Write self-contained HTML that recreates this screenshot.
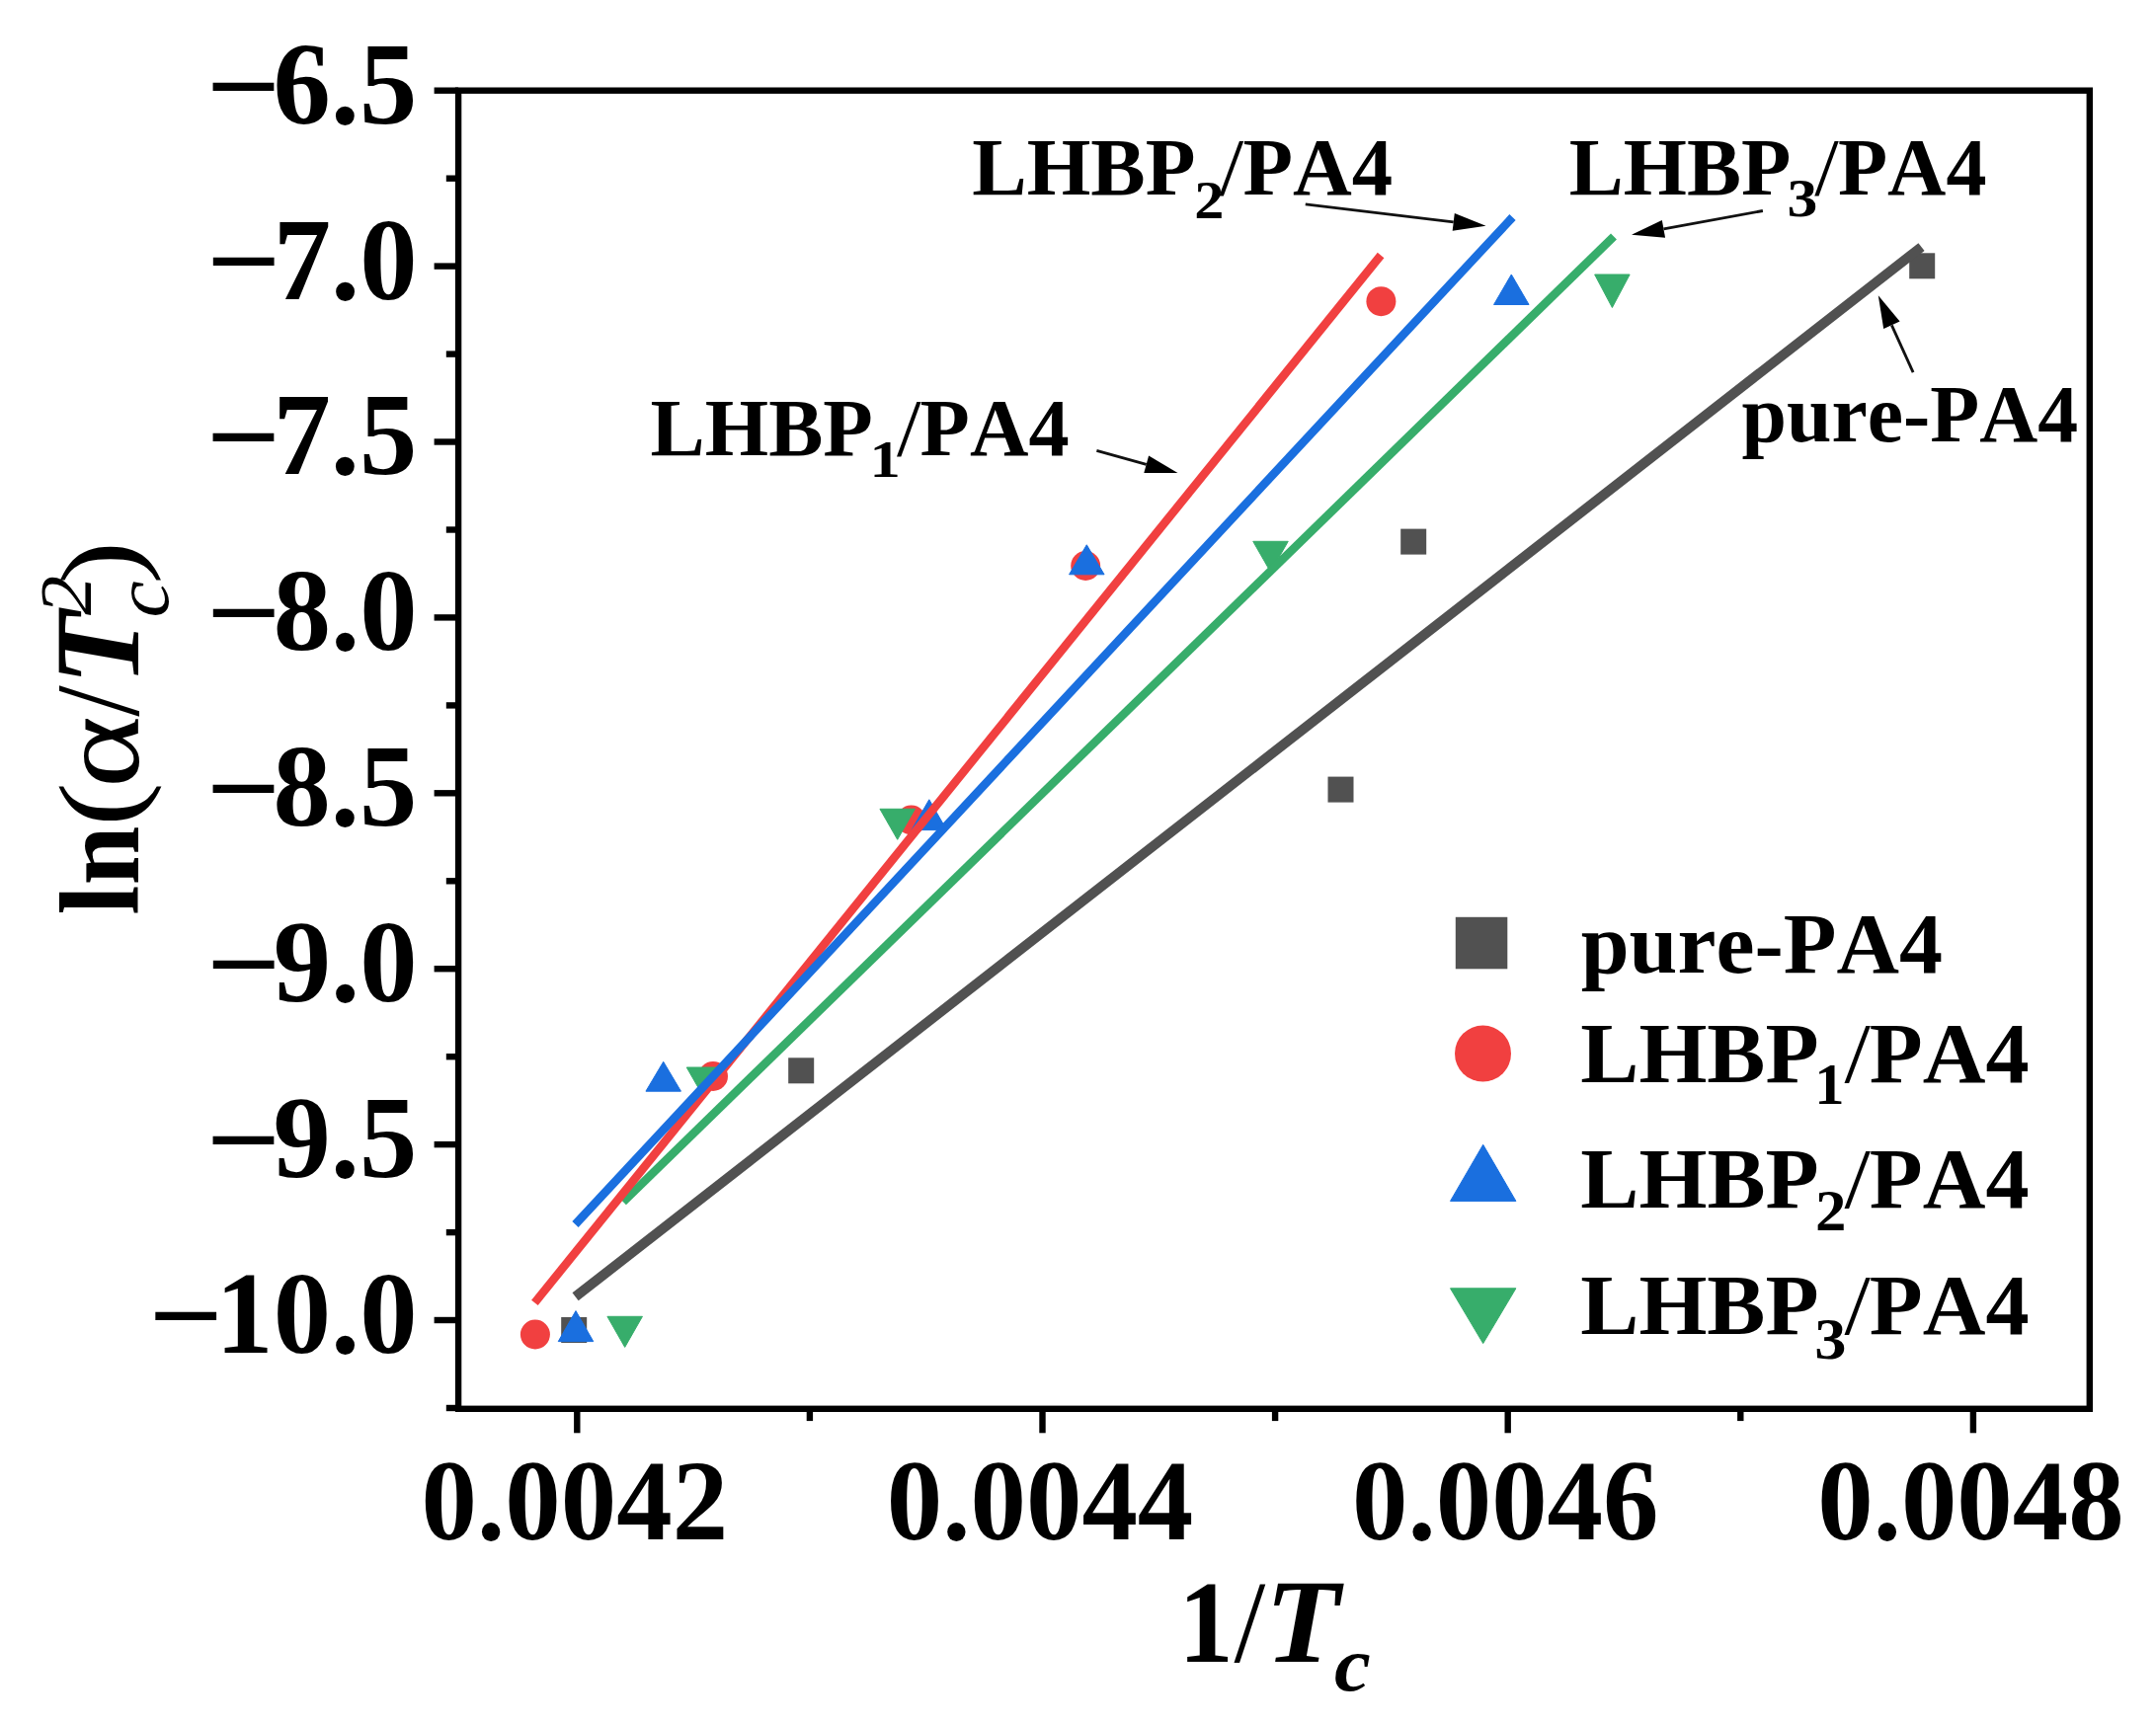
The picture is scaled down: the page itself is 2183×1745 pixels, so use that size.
<!DOCTYPE html>
<html lang="en"><head><meta charset="utf-8"><title>ln(α/Tc²) versus 1/Tc</title>
<style>
html,body{margin:0;padding:0;background:#fff;}
body{width:2183px;height:1745px;overflow:hidden;}
svg{display:block;}
text{font-family:"Liberation Serif", "Times New Roman", Times, serif;font-weight:bold;fill:#000;font-kerning:none;}
.it{font-style:italic;}
.rg{font-weight:normal;}
</style></head><body>
<svg width="2183" height="1745" viewBox="0 0 2183 1745">
<rect x="0" y="0" width="2183" height="1745" fill="#fff"/>
<g>
<rect x="1933.2" y="256.3" width="26" height="26" fill="#515151"/>
<rect x="1418.2" y="535.6" width="26" height="26" fill="#515151"/>
<rect x="1344.5" y="786.6" width="26" height="26" fill="#515151"/>
<rect x="798.2" y="1071.3" width="26" height="26" fill="#515151"/>
<rect x="568.2" y="1334.0" width="26" height="26" fill="#515151"/>
<circle cx="1398.4" cy="305.2" r="15" fill="#f14040"/>
<circle cx="1099.2" cy="573" r="15" fill="#f14040"/>
<circle cx="922.7" cy="830.5" r="15" fill="#f14040"/>
<circle cx="722" cy="1090" r="15" fill="#f14040"/>
<circle cx="541.9" cy="1351.5" r="15" fill="#f14040"/>
<polygon points="1530.3,278 1548.05,308.5 1512.55,308.5" fill="#1a6fdf" stroke="#1a6fdf" stroke-width="1" stroke-linejoin="round"/>
<polygon points="1100.3,551.8 1118.05,581.8 1082.55,581.8" fill="#1a6fdf" stroke="#1a6fdf" stroke-width="1" stroke-linejoin="round"/>
<polygon points="940.8,809.8 958.55,840.6 923.05,840.6" fill="#1a6fdf" stroke="#1a6fdf" stroke-width="1" stroke-linejoin="round"/>
<polygon points="671.7,1075.3 689.45,1105.2 653.95,1105.2" fill="#1a6fdf" stroke="#1a6fdf" stroke-width="1" stroke-linejoin="round"/>
<polygon points="583,1327.6 600.75,1358.6 565.25,1358.6" fill="#1a6fdf" stroke="#1a6fdf" stroke-width="1" stroke-linejoin="round"/>
<polygon points="1614.65,278 1650.15,278 1632.4,311.5" fill="#37ad6b" stroke="#37ad6b" stroke-width="1" stroke-linejoin="round"/>
<polygon points="1268.75,548.3 1304.25,548.3 1286.5,579.3" fill="#37ad6b" stroke="#37ad6b" stroke-width="1" stroke-linejoin="round"/>
<polygon points="890.95,819.3 926.45,819.3 908.7,850.3" fill="#37ad6b" stroke="#37ad6b" stroke-width="1" stroke-linejoin="round"/>
<polygon points="695.25,1081 730.75,1081 713,1112" fill="#37ad6b" stroke="#37ad6b" stroke-width="1" stroke-linejoin="round"/>
<polygon points="614.95,1333.3 650.45,1333.3 632.7,1364.4" fill="#37ad6b" stroke="#37ad6b" stroke-width="1" stroke-linejoin="round"/>
</g>
<g fill="none" stroke-linecap="butt">
<line x1="582.6" y1="1313.3" x2="1945.5" y2="250.1" stroke="#515151" stroke-width="10"/>
<line x1="631" y1="1217.2" x2="1634" y2="239.5" stroke="#37ad6b" stroke-width="8.5"/>
<line x1="541.4" y1="1319.3" x2="1398.1" y2="258.5" stroke="#f14040" stroke-width="8.5"/>
<line x1="582.5" y1="1240" x2="1531.5" y2="220" stroke="#1a6fdf" stroke-width="8.5"/>
</g>
<rect x="464.1" y="91.7" width="1651.7" height="1335.1" fill="none" stroke="#000" stroke-width="6.4"/>
<g stroke="#000" stroke-width="6.4" fill="none">
<line x1="439.6" y1="91.7" x2="464.1" y2="91.7"/>
<line x1="451.8" y1="180.7" x2="464.1" y2="180.7"/>
<line x1="439.6" y1="269.6" x2="464.1" y2="269.6"/>
<line x1="451.8" y1="358.6" x2="464.1" y2="358.6"/>
<line x1="439.6" y1="447.5" x2="464.1" y2="447.5"/>
<line x1="451.8" y1="536.5" x2="464.1" y2="536.5"/>
<line x1="439.6" y1="625.4" x2="464.1" y2="625.4"/>
<line x1="451.8" y1="714.4" x2="464.1" y2="714.4"/>
<line x1="439.6" y1="803.3" x2="464.1" y2="803.3"/>
<line x1="451.8" y1="892.3" x2="464.1" y2="892.3"/>
<line x1="439.6" y1="981.2" x2="464.1" y2="981.2"/>
<line x1="451.8" y1="1070.2" x2="464.1" y2="1070.2"/>
<line x1="439.6" y1="1159.1" x2="464.1" y2="1159.1"/>
<line x1="451.8" y1="1248.1" x2="464.1" y2="1248.1"/>
<line x1="439.6" y1="1337.0" x2="464.1" y2="1337.0"/>
<line x1="451.8" y1="1426.0" x2="464.1" y2="1426.0"/>
<line x1="584.3" y1="1426.8" x2="584.3" y2="1451.3"/>
<line x1="819.9" y1="1426.8" x2="819.9" y2="1439.1"/>
<line x1="1055.5" y1="1426.8" x2="1055.5" y2="1451.3"/>
<line x1="1291.1" y1="1426.8" x2="1291.1" y2="1439.1"/>
<line x1="1526.7" y1="1426.8" x2="1526.7" y2="1451.3"/>
<line x1="1762.3" y1="1426.8" x2="1762.3" y2="1439.1"/>
<line x1="1997.9" y1="1426.8" x2="1997.9" y2="1451.3"/>
</g>
<g>
<text font-size="118.50" transform="translate(276.47,124.60) scale(0.9850,1)">6.5</text>
<text font-size="118.50" transform="translate(208.73,126.50) scale(1.1215,1)">−</text>
<text font-size="118.50" transform="translate(276.64,302.50) scale(0.9850,1)">7.0</text>
<text font-size="118.50" transform="translate(208.90,304.40) scale(1.1215,1)">−</text>
<text font-size="118.50" transform="translate(276.47,480.40) scale(0.9850,1)">7.5</text>
<text font-size="118.50" transform="translate(208.73,482.30) scale(1.1215,1)">−</text>
<text font-size="118.50" transform="translate(276.64,658.30) scale(0.9850,1)">8.0</text>
<text font-size="118.50" transform="translate(208.90,660.20) scale(1.1215,1)">−</text>
<text font-size="118.50" transform="translate(276.47,836.20) scale(0.9850,1)">8.5</text>
<text font-size="118.50" transform="translate(208.73,838.10) scale(1.1215,1)">−</text>
<text font-size="118.50" transform="translate(276.64,1014.10) scale(0.9850,1)">9.0</text>
<text font-size="118.50" transform="translate(208.90,1016.00) scale(1.1215,1)">−</text>
<text font-size="118.50" transform="translate(276.47,1192.00) scale(0.9850,1)">9.5</text>
<text font-size="118.50" transform="translate(208.73,1193.90) scale(1.1215,1)">−</text>
<text font-size="118.50" transform="translate(218.28,1369.90) scale(0.9850,1)">10.0</text>
<text font-size="118.50" transform="translate(150.54,1371.80) scale(1.1215,1)">−</text>
<text font-size="117.50" transform="translate(426.60,1558.90) scale(0.9610,1)">0.0042</text>
<text font-size="117.50" transform="translate(897.80,1558.90) scale(0.9610,1)">0.0044</text>
<text font-size="117.50" transform="translate(1369.00,1558.90) scale(0.9610,1)">0.0046</text>
<text font-size="117.50" transform="translate(1840.20,1558.90) scale(0.9610,1)">0.0048</text>
</g>
<g>
<text font-size="118.91" transform="translate(1193.30,1682.70) scale(0.9342,1)">1</text>
<text class="rg" font-size="119.12" transform="translate(1249.60,1682.70) scale(0.9609,1)">/</text>
<text class="it" font-size="119.89" transform="translate(1280.89,1682.70) scale(1.0332,1)">T</text>
<text class="it" font-size="78.18" transform="translate(1350.98,1712.44) scale(1.0614,1)">c</text>
</g>
<g transform="translate(140.3,924.4) rotate(-90)">
<text font-size="114.70" transform="translate(-2.11,0.00) scale(0.9402,1)">ln</text>
<text class="rg" font-size="113.37" transform="translate(87.40,-0.94) scale(1.1848,1)">(</text>
<text class="rg" font-size="117.15" transform="translate(126.29,-0.54) scale(1.1900,1)">α</text>
<text class="rg" font-size="121.24" transform="translate(198.70,0.00) scale(0.9322,1)">/</text>
<text class="it" font-size="122.02" transform="translate(230.53,0.00) scale(0.9993,1)">T</text>
<text class="it rg" font-size="73.55" transform="translate(301.36,-48.80) scale(1.0904,1)">2</text>
<text class="it rg" font-size="78.39" transform="translate(298.82,29.33) scale(1.0686,1)">c</text>
<text class="rg" font-size="112.71" transform="translate(332.57,-1.40) scale(1.1641,1)">)</text>
</g>
<g>
<text font-size="81.53" transform="translate(984.18,196.80) scale(1.0197,1)">LHBP</text>
<text font-size="55.43" transform="translate(1209.37,220.50) scale(1.0867,1)">2</text>
<text class="rg" font-size="81.53" transform="translate(1234.60,196.80) scale(1.0893,1)">/</text>
<text font-size="81.53" transform="translate(1258.43,196.80) scale(1.0151,1)">PA4</text>
<text font-size="81.53" transform="translate(1588.69,196.80) scale(1.0122,1)">LHBP</text>
<text font-size="54.62" transform="translate(1809.58,218.57) scale(1.1286,1)">3</text>
<text class="rg" font-size="81.53" transform="translate(1837.28,196.80) scale(1.0813,1)">/</text>
<text font-size="81.53" transform="translate(1860.93,196.80) scale(1.0077,1)">PA4</text>
<text font-size="81.98" transform="translate(658.59,461.30) scale(1.0094,1)">LHBP</text>
<text font-size="52.71" transform="translate(880.48,482.70) scale(1.1902,1)">1</text>
<text class="rg" font-size="81.98" transform="translate(907.88,461.30) scale(1.0783,1)">/</text>
<text font-size="81.98" transform="translate(931.61,461.30) scale(1.0049,1)">PA4</text>
<text font-size="81.68" transform="translate(1763.56,446.80) scale(1.0011,1)">pure-PA4</text>
</g>
<line x1="1321.8" y1="206.9" x2="1471.7" y2="224.8" stroke="#111" stroke-width="2.8"/><polygon points="1504.5,228.7 1470.7,233.7 1472.8,215.9" fill="#000"/>
<line x1="1784.9" y1="213.5" x2="1684.5" y2="231.9" stroke="#111" stroke-width="2.8"/><polygon points="1652.0,237.8 1682.8,223.0 1686.1,240.7" fill="#000"/>
<line x1="1937.1" y1="377.2" x2="1915.4" y2="329.4" stroke="#111" stroke-width="2.8"/><polygon points="1901.8,299.3 1923.6,325.6 1907.2,333.1" fill="#000"/>
<line x1="1110.4" y1="456.3" x2="1160.7" y2="470.3" stroke="#111" stroke-width="2.8"/><polygon points="1192.5,479.1 1158.3,478.9 1163.1,461.6" fill="#000"/>
<rect x="1473.8" y="928.8" width="52.5" height="52.5" fill="#515151"/>
<circle cx="1501.5" cy="1067" r="28.5" fill="#f14040"/>
<polygon points="1501.7,1159.3 1534.9,1216.4 1468.5,1216.4" fill="#1a6fdf" stroke="#1a6fdf" stroke-width="1" stroke-linejoin="round"/>
<polygon points="1468.5,1304.8 1534.9,1304.8 1501.7,1360.6" fill="#37ad6b" stroke="#37ad6b" stroke-width="1" stroke-linejoin="round"/>
<g>
<text font-size="87.02" transform="translate(1600.68,985.20) scale(1.0105,1)">pure-PA4</text>
<text font-size="86.41" transform="translate(1600.28,1095.90) scale(1.0262,1)">LHBP</text>
<text font-size="59.99" transform="translate(1837.35,1117.60) scale(1.0098,1)">1</text>
<text class="rg" font-size="86.41" transform="translate(1867.40,1095.90) scale(1.0962,1)">/</text>
<text font-size="86.41" transform="translate(1892.82,1095.90) scale(1.0216,1)">PA4</text>
<text font-size="86.72" transform="translate(1600.28,1222.60) scale(1.0226,1)">LHBP</text>
<text font-size="58.30" transform="translate(1838.06,1246.40) scale(1.0787,1)">2</text>
<text class="rg" font-size="86.72" transform="translate(1867.40,1222.60) scale(1.0924,1)">/</text>
<text font-size="86.72" transform="translate(1892.82,1222.60) scale(1.0180,1)">PA4</text>
<text font-size="86.41" transform="translate(1600.28,1351.10) scale(1.0262,1)">LHBP</text>
<text font-size="58.34" transform="translate(1837.18,1376.43) scale(1.1047,1)">3</text>
<text class="rg" font-size="86.41" transform="translate(1867.40,1351.10) scale(1.0962,1)">/</text>
<text font-size="86.41" transform="translate(1892.82,1351.10) scale(1.0216,1)">PA4</text>
</g>
</svg></body></html>
